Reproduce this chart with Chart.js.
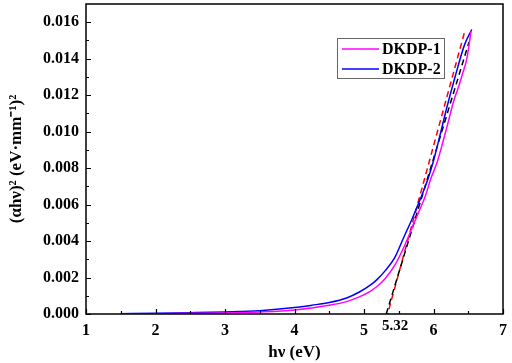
<!DOCTYPE html>
<html><head><meta charset="utf-8">
<script src="https://cdn.jsdelivr.net/npm/chart.js@4.4.0/dist/chart.umd.min.js"></script>
<style>html,body{margin:0;padding:0;background:#fff}#wrap{width:512px;height:363px}</style>
</head><body><div id="wrap"><canvas id="c" width="512" height="363"></canvas></div>
<script>
// ---- data ----
const seriesNames = ["DKDP-1", "DKDP-2"];
const dkdp1X = [1.5, 2.0, 2.5, 3.0, 3.5, 4.0, 4.5, 4.75, 4.94, 5.09, 5.19, 5.30, 5.45, 5.59, 5.69, 5.81, 5.88, 5.96, 6.05, 6.14, 6.21, 6.285, 6.36, 6.42, 6.48, 6.54];
const dkdp1Y = [0.00001, 0.00002, 0.00004, 0.00006, 0.00011, 0.00022, 0.00048, 0.00068, 0.00095, 0.00124, 0.00152, 0.00192, 0.00272, 0.0038, 0.0047, 0.0058, 0.00644, 0.0074, 0.0083, 0.0095, 0.0105, 0.0116, 0.01245, 0.0132, 0.0140, 0.0155];
const dkdp2X = [1.5, 2.0, 2.5, 3.0, 3.5, 4.0, 4.25, 4.5, 4.75, 4.94, 5.09, 5.19, 5.30, 5.45, 5.56, 5.69, 5.81, 5.92, 6.0, 6.10, 6.19, 6.31, 6.45, 6.55];
const dkdp2Y = [0.00002, 0.00004, 0.00007, 0.00011, 0.00018, 0.00035, 0.00048, 0.00063, 0.00088, 0.00122, 0.00158, 0.0019, 0.00235, 0.00315, 0.0041, 0.0052, 0.0063, 0.0074, 0.0084, 0.0099, 0.0113, 0.0130, 0.0148, 0.0156];
const fitBlackX = [5.32, 6.51];
const fitBlackY = [0, 0.0149];
const fitRedX = [5.34, 6.45];
const fitRedY = [0, 0.0155];
const xTicks = [1, 2, 3, 4, 5, 6, 7];
const yTicks = [0, 0.002, 0.004, 0.006, 0.008, 0.010, 0.012, 0.014, 0.016];
const bandGapLabel = "5.32";
const bandGapValue = 5.32;

const pts = (xs, ys) => xs.map((x, i) => ({x, y: ys[i]}));
const FONT = "'Liberation Serif', 'Times New Roman', serif";

const framePlugin = {
  id: 'frame',
  afterDatasetsDraw(chart) {
    const {ctx, chartArea: a, scales} = chart;
    const xs = scales.x, ys = scales.y;
    ctx.save();
    ctx.strokeStyle = '#000';
    ctx.lineWidth = 1.5;
    ctx.strokeRect(a.left, a.top, a.right - a.left, a.bottom - a.top);
    ctx.lineWidth = 1.2;
    ctx.beginPath();
    for (let v = 1; v <= 7.001; v += 0.5) {
      const p = Math.round(xs.getPixelForValue(v)) + 0.5;
      const len = (Math.abs(v - Math.round(v)) < 1e-6) ? 5 : 3;
      ctx.moveTo(p, a.bottom); ctx.lineTo(p, a.bottom - len);
    }
    for (let v = 0; v <= 0.0165; v += 0.001) {
      const p = Math.round(ys.getPixelForValue(v)) + 0.5;
      const major = Math.round(v / 0.001) % 2 === 0;
      ctx.moveTo(a.left, p); ctx.lineTo(a.left + (major ? 5 : 3), p);
    }
    ctx.stroke();
    // band gap label
    ctx.fillStyle = '#000';
    ctx.font = 'bold 15px ' + FONT;
    ctx.textAlign = 'center';
    ctx.textBaseline = 'middle';
    ctx.fillText(bandGapLabel, xs.getPixelForValue(bandGapValue) + 9, a.bottom + 12);
    // legend
    const lx = 337, ly = 38, lw = 107, lh = 40;
    ctx.fillStyle = '#fff';
    ctx.fillRect(lx, ly, lw, lh);
    ctx.strokeStyle = '#666';
    ctx.lineWidth = 1;
    ctx.strokeRect(lx + 0.5, ly + 0.5, lw, lh);
    const colors = [chart.data.datasets[0].borderColor, chart.data.datasets[1].borderColor];
    seriesNames.forEach((n, i) => {
      const y = ly + 11 + i * 20;
      ctx.strokeStyle = colors[i];
      ctx.lineWidth = 1.5;
      ctx.beginPath(); ctx.moveTo(lx + 5, y); ctx.lineTo(lx + 42, y); ctx.stroke();
      ctx.fillStyle = '#000';
      ctx.font = 'bold 16px ' + FONT;
      ctx.textAlign = 'left';
      ctx.fillText(n, lx + 45, y + 1);
    });
    ctx.restore();
  }
};

new Chart(document.getElementById('c'), {
  type: 'scatter',
  data: {
    datasets: [
      {label: seriesNames[0], data: pts(dkdp1X, dkdp1Y), showLine: true, borderColor: '#ff00ff', borderWidth: 1.5, pointRadius: 0, cubicInterpolationMode: 'monotone'},
      {label: seriesNames[1], data: pts(dkdp2X, dkdp2Y), showLine: true, borderColor: '#0000ff', borderWidth: 1.5, pointRadius: 0, cubicInterpolationMode: 'monotone'},
      {label: 'fit1', data: pts(fitBlackX, fitBlackY), showLine: true, borderColor: '#000', borderWidth: 1.5, borderDash: [6, 4], pointRadius: 0},
      {label: 'fit2', data: pts(fitRedX, fitRedY), showLine: true, borderColor: '#ff0000', borderWidth: 1.5, borderDash: [6, 4], borderDashOffset: 5, pointRadius: 0}
    ]
  },
  options: {
    responsive: false,
    animation: false,
    layout: {padding: {left: 0, right: 9, top: 4, bottom: 0}},
    plugins: {legend: {display: false}, tooltip: {enabled: false}},
    scales: {
      x: {
        type: 'linear', min: 1, max: 7,
        afterBuildTicks(s) { s.ticks = xTicks.map(v => ({value: v})); },
        afterFit(s) { s.height = 49; s.paddingLeft = 0; s.paddingRight = 0; },
        grid: {display: false, drawTicks: false},
        border: {display: false},
        ticks: {color: '#000', font: {family: FONT, size: 16, weight: 'bold'}, padding: 7, maxRotation: 0},
        title: {display: true, text: 'hν (eV)', color: '#000', font: {family: FONT, size: 17, weight: 'bold'}, padding: {top: 0, bottom: 0}}
      },
      y: {
        type: 'linear', min: 0, max: 0.017,
        afterBuildTicks(s) { s.ticks = yTicks.map(v => ({value: v})); },
        afterFit(s) { s.width = 86; s.paddingTop = 0; s.paddingBottom = 0; },
        grid: {display: false, drawTicks: false},
        border: {display: false},
        ticks: {color: '#000', font: {family: FONT, size: 16, weight: 'bold'}, padding: 7, callback: v => v.toFixed(3)},
        title: {display: true, text: '(αhν)² (eV·mm⁻¹)²', color: '#000', font: {family: FONT, size: 17, weight: 'bold'}, padding: {top: 6, bottom: 4}}
      }
    }
  },
  plugins: [framePlugin]
});
</script></body></html>
